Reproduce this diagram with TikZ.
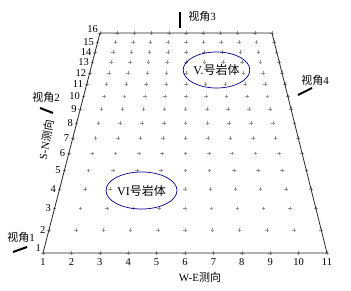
\documentclass[tikz,border=0pt]{standalone}
\usepackage{fontspec}
\setmainfont{Liberation Serif}
\newfontfamily\cjk{Noto Sans CJK SC}
\usetikzlibrary{shapes.geometric}
\begin{document}
\begin{tikzpicture}[x=1pt,y=1pt,
  plus/.style={gray!85, line width=0.4pt},
  edge/.style={black!85, line width=0.8pt},
  viewmark/.style={black, line width=2pt},
  lbl/.style={font=\fontsize{10.5}{12}\selectfont, inner sep=1pt},
  cn/.style={font=\fontsize{11}{12}\selectfont, inner sep=1pt},
  body/.style={draw=blue!55!black, line width=0.7pt, ellipse, inner sep=0pt, font=\fontsize{12}{13}\selectfont}]
\useasboundingbox (0,0) rectangle (351,291);
\coordinate (BL) at (43,38);
\coordinate (BR) at (327,38);
\coordinate (TL) at (100,258);
\coordinate (TR) at (272,258);
% grid of plus marks and left labels
\foreach \v in {0,...,15}{
  \pgfmathsetmacro{\t}{\v/15}
  \pgfmathsetmacro{\f}{\t*1.65/(1+0.65*\t)}
  \pgfmathsetmacro{\Y}{38+220*\f}
  \pgfmathsetmacro{\xl}{43+57*\f}
  \pgfmathsetmacro{\xr}{327-55*\f}
  \foreach \u in {0,...,10}{
    \pgfmathsetmacro{\X}{\xl+(\xr-\xl)*\u/10}
    \draw[plus] (\X-1.8,\Y) -- (\X+1.8,\Y) (\X,\Y-1.8) -- (\X,\Y+1.8);
  }
  \pgfmathtruncatemacro{\lab}{\v+1}
  \ifnum\v=0
    \node[lbl, anchor=south east] (L\lab) at (\xl-1,\Y) {\lab};
  \else\ifnum\v=15
    \node[lbl, anchor=south east] (L\lab) at (\xl-1,\Y-1) {\lab};
  \else
    \node[lbl, anchor=east] (L\lab) at (\xl-2.5,\Y) {\lab};
  \fi\fi
}
% bottom labels
\foreach \u in {0,...,10}{
  \pgfmathtruncatemacro{\lab}{\u+1}
  \node[lbl, anchor=north] (B\lab) at (43+28.4*\u,34) {\lab};
}
% outline
\draw[edge] (BL) -- (BR) -- (TR) -- (TL) -- cycle;
% axis titles
\node[cn] (we) at (200,14) {W-E{\cjk 测向}};
\node[cn, rotate=80] (sn) at (46,151) {S-N{\cjk 测向}};
% rock bodies
\node[body, minimum width=61, minimum height=36] (r5) at (216.5,221) {\fboxsep=0.5pt\colorbox{white}{V.{\cjk 号岩体}}};
\node[body, minimum width=71, minimum height=37] (r6) at (141.5,100.5) {\fboxsep=0.5pt\colorbox{white}{VI{\cjk 号岩体}}};
% view angles
\coordinate (v1a) at (13,39); \coordinate (v1b) at (27,44);
\draw[viewmark] (v1a) -- (v1b);
\node[cn] (t1) at (21,54) {{\cjk 视角}1};
\coordinate (v2a) at (40,183); \coordinate (v2b) at (53,178);
\draw[viewmark] (v2a) -- (v2b);
\node[cn] (t2) at (46,194) {{\cjk 视角}2};
\coordinate (v3a) at (180,279); \coordinate (v3b) at (180,263);
\draw[viewmark] (v3a) -- (v3b);
\node[cn] (t3) at (202,275) {{\cjk 视角}3};
\coordinate (v4a) at (298,196); \coordinate (v4b) at (312,203);
\draw[viewmark] (v4a) -- (v4b);
\node[cn] (t4) at (315,211) {{\cjk 视角}4};
\end{tikzpicture}
\end{document}
